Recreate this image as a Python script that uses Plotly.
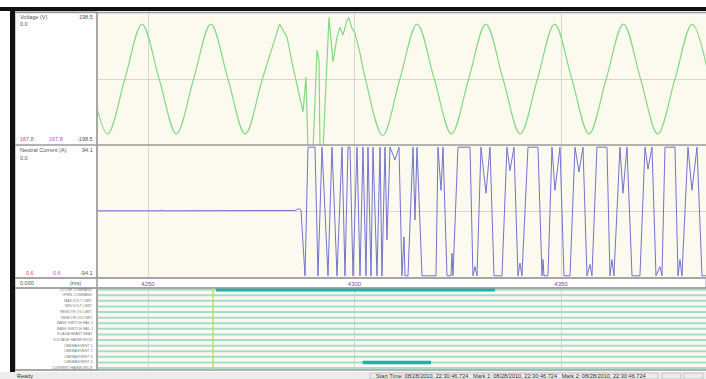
import plotly.graph_objects as go

W, H = 706, 379

# ---------------- data ----------------
# Voltage (V) – readings at peaks / zero crossings / troughs (ms, V)
volt_pre_t = [4236.06, 4240.22, 4244.39, 4248.55, 4252.71, 4256.87, 4261.04,
              4265.20, 4269.36, 4273.52, 4277.69, 4281.85]
volt_pre_v = [0, -165, 0, 165, 0, -165, 0, 165, 0, -165, 0, 165]

volt_dist_t = [4281.85, 4283.66, 4285.11, 4286.32, 4287.53, 4288.26, 4288.74,
               4289.95, 4290.92, 4291.40, 4291.64, 4292.37, 4293.82, 4294.79,
               4295.76, 4296.48, 4297.21, 4298.18, 4298.66, 4299.39, 4300.11,
               4301.33]
volt_dist_v = [165, 126, 36, -33, -99, 6, -215, -215, 87, 57, -215, -215, 186,
               51, 126, 156, 132, 177, 183, 153, 138, 78]

volt_post_t = [4301.33, 4302.65, 4306.81, 4310.98, 4315.15, 4319.31, 4323.47,
               4327.64, 4331.80, 4335.96, 4340.12, 4344.29, 4348.45, 4352.61,
               4356.77, 4360.94, 4365.10, 4369.26, 4373.42, 4377.59, 4381.75,
               4385.91]
volt_post_v = [78, 0, -170, 0, 165, 0, -165, 0, 165, 0, -165, 0, 165, 0, -165,
               0, 165, 0, -165, 0, 165, 0]

# Neutral current (A)
cur_t = [4237.0, 4253.2, 4253.39, 4253.6, 4285.6, 4286.56, 4287.04,
         4288.01, 4288.74, 4290.43, 4291.16, 4292.13, 4293.58, 4294.55,
         4295.76, 4296.97, 4297.69, 4298.42, 4298.90, 4299.63, 4300.60,
         4301.33, 4302.05, 4302.78, 4303.26, 4303.99, 4304.47, 4305.44,
         4306.17, 4306.65, 4307.38, 4307.86, 4308.59, 4309.80, 4310.77,
         4311.49, 4311.98, 4312.22, 4312.95, 4314.16, 4314.64, 4315.13,
         4316.34, 4319.73, 4320.21, 4320.94, 4321.42, 4322.39, 4323.36,
         4323.60, 4323.84, 4325.05, 4327.96, 4328.68, 4329.17, 4329.65,
         4330.62, 4331.83, 4332.80, 4333.77, 4335.70, 4336.91, 4337.64,
         4338.61, 4339.58, 4340.06, 4340.54, 4342.00, 4344.42, 4345.39,
         4345.63, 4345.87, 4346.84, 4347.81, 4348.53, 4349.75, 4350.71,
         4352.17, 4353.38, 4354.35, 4355.32, 4356.28, 4357.01, 4357.49,
         4358.70, 4361.12, 4361.85, 4362.33, 4362.81, 4364.27, 4365.00,
         4365.97, 4367.18, 4369.11, 4370.33, 4371.05, 4372.02, 4372.99,
         4373.96, 4374.44, 4375.17, 4377.59, 4378.32, 4378.80, 4379.28,
         4380.74, 4381.70, 4382.92, 4384.13, 4386.0]
cur_v = [1, 1, 2.5, 1, 1.5, 4, 2,
         -91, 91, 91, -91, 91, -91, 91,
         -91, 91, -91, 91, 91, -91, 91,
         -91, 91, -91, 91, -91, 91, -91,
         91, -91, 91, -40, 91, 73, 91,
         -91, -36, -91, -91, 91, -12, 91,
         -91, -91, 91, 30, 91, -91, -91,
         -59, -91, 91, 91, -91, -78, -91,
         91, 26, 91, -91, -91, 91, 58,
         91, -91, -73, -91, 91, 91, -91,
         -68, -91, -91, 91, 30, 91, -91,
         -91, 91, 56, 91, -91, -75, -91,
         91, 91, -91, -68, -91, 91, 26,
         91, -91, -91, 91, 60, 91, -91,
         -78, -91, 91, 91, -91, -68, -91,
         91, 30, 91, -91, -91]

# Event channels
event_labels = ["CLOSE COMMAND", "OPEN COMMAND", "MAX VOLT LIMIT", "MIN VOLT LIMIT",
                "REMOTE OV LIMIT", "REMOTE UV LIMIT", "BANK SWITCH FAIL 2",
                "BANK SWITCH FAIL 1", "SCADA HEART BEAT", "VOLTAGE HARMONICS",
                "CBEMA EVENT 1", "CBEMA EVENT 2", "CBEMA EVENT 3", "CBEMA EVENT 4",
                "CURRENT HARMONICS"]
event_on_row = [0, 13]
event_on_start = [4266.46, 4301.98]
event_on_end = [4334.01, 4318.52]
marker_time = 4265.74

x_ticks = [4250, 4300, 4350]
t_range = [4237.65, 4385.10]
volt_scale = 198.5
cur_scale = 94.1

# ---------------- layout helpers ----------------
def px(x):
    return x / W

def py(y):
    return 1 - y / H

FONT = "Liberation Sans, Arial, sans-serif"
VCOL = "#86d886"
ICOL = "#7373cf"
BG = "#fcf9ee"
GRID = "#d9d6cb"
BORDER = "#9a9a9a"

fig = go.Figure()

fig.add_trace(go.Scatter(x=volt_pre_t, y=volt_pre_v, mode="lines",
                         line=dict(color=VCOL, width=1.2, shape="spline", smoothing=1.0),
                         xaxis="x", yaxis="y", showlegend=False, hoverinfo="skip"))
fig.add_trace(go.Scatter(x=volt_dist_t, y=volt_dist_v, mode="lines",
                         line=dict(color=VCOL, width=1.2),
                         xaxis="x", yaxis="y", showlegend=False, hoverinfo="skip"))
fig.add_trace(go.Scatter(x=volt_post_t, y=volt_post_v, mode="lines",
                         line=dict(color=VCOL, width=1.2, shape="spline", smoothing=1.0),
                         xaxis="x", yaxis="y", showlegend=False, hoverinfo="skip"))

fig.add_trace(go.Scatter(x=cur_t, y=cur_v, mode="lines",
                         line=dict(color=ICOL, width=1),
                         xaxis="x2", yaxis="y2", showlegend=False, hoverinfo="skip"))

# event stripes
sx, sy = [], []
for i, _ in enumerate(event_labels):
    sx += [t_range[0] - 5, t_range[1] + 5, None]
    sy += [i, i, None]
fig.add_trace(go.Scatter(x=sx, y=sy, mode="lines",
                         line=dict(color="#a6dccf", width=2),
                         xaxis="x3", yaxis="y3", showlegend=False, hoverinfo="skip"))
bx, by = [], []
for r, s, e in zip(event_on_row, event_on_start, event_on_end):
    bx += [s, e, None]
    by += [r, r, None]
fig.add_trace(go.Scatter(x=bx, y=by, mode="lines",
                         line=dict(color="#18b4ae", width=3.5),
                         xaxis="x3", yaxis="y3", showlegend=False, hoverinfo="skip"))

xdom = [px(97), 1.0]
common_x = dict(range=t_range, showgrid=True, gridcolor=GRID, gridwidth=1,
                tickvals=x_ticks, zeroline=False, showline=False, ticks="")
fig.update_layout(
    width=W, height=H, margin=dict(l=0, r=0, t=0, b=0),
    paper_bgcolor="white", plot_bgcolor=BG,
    font=dict(family=FONT, size=6, color="#555"),
    xaxis=dict(domain=xdom, anchor="y", showticklabels=False, **common_x),
    xaxis2=dict(domain=xdom, anchor="y2", matches="x", showticklabels=True,
                tickfont=dict(size=6, color="#8a3fa8"), ticklabelstandoff=1,
                **common_x),
    xaxis3=dict(domain=xdom, anchor="y3", matches="x", showticklabels=False,
                **common_x),
    yaxis=dict(domain=[py(145), py(13)], range=[-volt_scale, volt_scale],
               showgrid=False, zeroline=True, zerolinecolor=GRID, zerolinewidth=1,
               showticklabels=False),
    yaxis2=dict(domain=[py(278), py(145)], range=[-cur_scale, cur_scale],
                showgrid=False, zeroline=True, zerolinecolor=GRID, zerolinewidth=1,
                showticklabels=False),
    yaxis3=dict(domain=[py(370), py(288)], range=[14.35, -0.3],
                showgrid=False, zeroline=False, showticklabels=False),
)

shapes = []
# outer dark frame
shapes.append(dict(type="rect", xref="paper", yref="paper", x0=px(0), x1=px(706),
                   y0=py(11), y1=py(7), fillcolor="#111", line_width=0, layer="above"))
shapes.append(dict(type="rect", xref="paper", yref="paper", x0=px(10), x1=px(15),
                   y0=py(373), y1=py(7), fillcolor="#111", line_width=0, layer="above"))
# left label panel
shapes.append(dict(type="rect", xref="paper", yref="paper", x0=px(15), x1=px(97),
                   y0=py(370), y1=py(12), fillcolor="white", line=dict(color=BORDER, width=1),
                   layer="below"))
# time strip (below so the tick labels stay visible)
shapes.append(dict(type="rect", xref="paper", yref="paper", x0=px(15), x1=px(706),
                   y0=py(288), y1=py(278), fillcolor="white", line=dict(color=BORDER, width=1),
                   layer="below"))
# panel borders
for yy in [12.5, 145, 278, 288, 370]:
    shapes.append(dict(type="line", xref="paper", yref="paper", x0=px(15), x1=1,
                       y0=py(yy), y1=py(yy), line=dict(color=BORDER, width=1.5), layer="above"))
shapes.append(dict(type="line", xref="paper", yref="paper", x0=px(97), x1=px(97),
                   y0=py(370), y1=py(12), line=dict(color=BORDER, width=1.5), layer="above"))
# status bar
shapes.append(dict(type="rect", xref="paper", yref="paper", x0=0, x1=1,
                   y0=0, y1=py(372), fillcolor="#ececec", line_width=0, layer="above"))
for bx0 in [662, 684]:
    shapes.append(dict(type="rect", xref="paper", yref="paper", x0=px(bx0), x1=px(bx0 + 19),
                       y0=py(379), y1=py(373), fillcolor="#ececec",
                       line=dict(color="#c4c4c4", width=1), layer="above"))
shapes.append(dict(type="rect", xref="paper", yref="paper", x0=px(370), x1=px(658),
                   y0=py(379), y1=py(373), fillcolor="rgba(0,0,0,0)",
                   line=dict(color="#c4c4c4", width=1), layer="above"))
# cursor marker in event panel
shapes.append(dict(type="line", xref="x3", yref="paper", x0=marker_time, x1=marker_time,
                   y0=py(370), y1=py(288), line=dict(color="#b8df4c", width=1.3), layer="above"))
fig.update_layout(shapes=shapes)

ann = []
def txt(x, y, s, color="#555", anchor="left", size=5.5):
    ann.append(dict(x=px(x), y=py(y), xref="paper", yref="paper", text=s, showarrow=False,
                    xanchor=anchor, yanchor="middle", font=dict(size=size, color=color, family=FONT)))

txt(18, 17, "Voltage (V)")
txt(18, 24, "0.0")
txt(95, 17, f"{volt_scale}", anchor="right")
txt(18, 139, "167.8", color="#e0474c")
txt(47, 139, "167.8", color="#c24ce6")
txt(95, 139, f"-{volt_scale}", anchor="right")
txt(18, 150, "Neutral Current (A)")
txt(18, 158, "0.0")
txt(95, 150, f"{cur_scale}", anchor="right")
txt(24, 273, "0.6", color="#e0474c")
txt(51, 273, "0.6", color="#c24ce6")
txt(95, 273, f"-{cur_scale}", anchor="right")
txt(18, 283, "0.000")
txt(68, 283, "(ms)")
for i, lab in enumerate(event_labels):
    ann.append(dict(x=px(95), y=i, xref="paper", yref="y3", text=lab, showarrow=False,
                    xanchor="right", yanchor="middle",
                    font=dict(size=3.6, color="#777", family=FONT)))
txt(15, 376, "Ready", color="#333", size=5.5)
txt(374, 376, "Start Time: 08/28/2010, 22:30:46.724   Mark 1: 08/28/2010, 22:30:46.724   "
              "Mark 2: 08/28/2010, 22:30:46.724", color="#333", size=5.6)
fig.update_layout(annotations=ann)

fig.write_html("out.html", config={"displayModeBar": False},
               post_script="document.body.style.margin='0px';document.body.style.overflow='hidden';")
